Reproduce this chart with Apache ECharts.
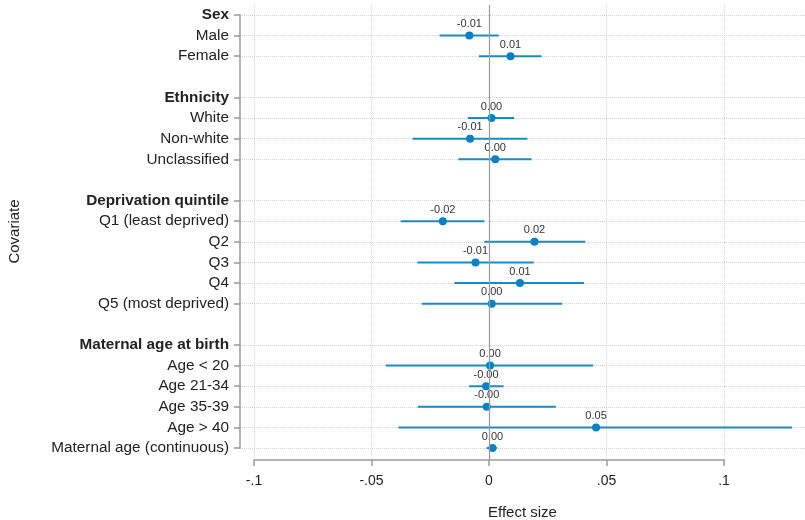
<!DOCTYPE html>
<html>
<head>
<meta charset="utf-8">
<script src="https://cdn.jsdelivr.net/npm/echarts@6/dist/echarts.min.js"></script>
<style>
  html, body { margin: 0; padding: 0; background: #fff; }
  #chart { width: 805px; height: 520px; }
</style>
</head>
<body>
<div id="chart"></div>
<script>
// rows of the plot, top to bottom (blank names are spacer rows)
var categories = ['Sex', 'Male', 'Female', ' ',
  'Ethnicity', 'White', 'Non-white', 'Unclassified', '  ',
  'Deprivation quintile', 'Q1 (least deprived)', 'Q2', 'Q3', 'Q4', 'Q5 (most deprived)', '   ',
  'Maternal age at birth', 'Age < 20', 'Age 21-34', 'Age 35-39', 'Age > 40', 'Maternal age (continuous)'];
var headers = ['Sex', 'Ethnicity', 'Deprivation quintile', 'Maternal age at birth'];

// estimates and 95% CI per covariate level
var rows = ['Male', 'Female', 'White', 'Non-white', 'Unclassified',
  'Q1 (least deprived)', 'Q2', 'Q3', 'Q4', 'Q5 (most deprived)',
  'Age < 20', 'Age 21-34', 'Age 35-39', 'Age > 40', 'Maternal age (continuous)'];
var estimate = [-0.0084, 0.0091, 0.0010, -0.0081, 0.0026,
  -0.0197, 0.0193, -0.0058, 0.0131, 0.0011,
  0.0004, -0.0013, -0.0010, 0.0455, 0.0014];
var lower = [-0.0211, -0.0043, -0.0091, -0.0326, -0.0131,
  -0.0376, -0.0020, -0.0305, -0.0148, -0.0287,
  -0.0440, -0.0085, -0.0304, -0.0386, -0.0011];
var upper = [0.0041, 0.0223, 0.0106, 0.0163, 0.0180,
  -0.0020, 0.0409, 0.0190, 0.0404, 0.0311,
  0.0443, 0.0062, 0.0284, 0.1289, 0.0034];

var xTicks = [-0.1, -0.05, 0, 0.05, 0.1];

var ciData = rows.map(function (r, i) { return [lower[i], upper[i], r]; });
var pointData = rows.map(function (r, i) { return [estimate[i], r]; });

var font = '"Liberation Sans", Arial, sans-serif';
var blue = '#1b8ac3';
var isRow = function (idx, val) { return String(val).trim() !== ''; };

var chart = echarts.init(document.getElementById('chart'));
chart.setOption({
  animation: false,
  textStyle: { fontFamily: font },
  grid: [
    { left: 240, right: 0, top: 15, bottom: 72, outerBoundsMode: 'none', containLabel: false },   // rows
    { left: 254, right: 81, top: 5, bottom: 60, outerBoundsMode: 'none', containLabel: false }    // x axis -.1 .. .1
  ],
  xAxis: [{
    gridIndex: 0, type: 'value', min: -0.106, max: 0.1344,
    axisLine: { show: false, onZero: false }, axisTick: { show: false },
    axisLabel: { show: false }, splitLine: { show: false },
    name: 'Effect size', nameLocation: 'middle', nameGap: 57,
    nameTextStyle: { fontSize: 15, color: '#222', fontFamily: font }
  }, {
    gridIndex: 1, type: 'value', min: xTicks[0], max: xTicks[xTicks.length - 1], interval: 0.05,
    axisLine: { onZero: false, lineStyle: { color: '#9a9a9a', width: 1.5 } },
    axisTick: { length: 6, lineStyle: { color: '#9a9a9a', width: 1.5 } },
    axisLabel: {
      fontSize: 14, color: '#222', margin: 14, fontFamily: font,
      formatter: function (v) {
        var s = String(Number(v.toFixed(2)));
        return s.replace('0.', '.');
      }
    },
    splitLine: { show: true, lineStyle: { color: '#d4d4d4', type: 'dotted', width: 1 } }
  }],
  yAxis: [{
    gridIndex: 0, type: 'category', data: categories, inverse: true, boundaryGap: false,
    axisLine: { onZero: false, lineStyle: { color: '#9a9a9a', width: 1.5 } },
    axisTick: { length: 6, interval: isRow, lineStyle: { color: '#9a9a9a', width: 1.5 } },
    axisLabel: {
      interval: isRow, margin: 11, fontSize: 15.3, color: '#222', fontFamily: font,
      formatter: function (v) {
        return headers.indexOf(v) >= 0 ? '{b|' + v + '}' : v;
      },
      rich: { b: { fontWeight: 'bold', fontSize: 15.3, color: '#222', fontFamily: font } }
    },
    splitLine: { show: true, interval: isRow, lineStyle: { color: '#d4d4d4', type: 'dotted', width: 1 } },
    name: 'Covariate', nameLocation: 'middle', nameRotate: 90, nameGap: 218,
    nameTextStyle: { fontSize: 15, color: '#222', fontFamily: font }
  }, {
    gridIndex: 1, type: 'value', min: 0, max: 1, show: false
  }],
  series: [{
    // zero reference line across the full plot height
    type: 'custom', xAxisIndex: 1, yAxisIndex: 1, data: [],
    renderItem: function () { return null; },
    markLine: {
      silent: true, symbol: 'none', label: { show: false },
      lineStyle: { color: '#9a9a9a', type: 'solid', width: 1.2 },
      data: [{ xAxis: 0 }]
    }
  }, {
    type: 'custom', xAxisIndex: 0, yAxisIndex: 0,
    encode: { x: [0, 1], y: 2 },
    data: ciData,
    renderItem: function (params, api) {
      var p1 = api.coord([api.value(0), api.value(2)]);
      var p2 = api.coord([api.value(1), api.value(2)]);
      return {
        type: 'line',
        shape: { x1: p1[0], y1: p1[1], x2: p2[0], y2: p2[1] },
        style: { stroke: blue, lineWidth: 2 }
      };
    }
  }, {
    type: 'scatter', xAxisIndex: 0, yAxisIndex: 0,
    data: pointData, symbolSize: 8,
    itemStyle: { color: '#0b80bf', opacity: 1 },
    label: {
      show: true, position: 'top', distance: 2,
      fontSize: 11, color: '#333', fontFamily: font,
      formatter: function (p) { return p.value[0].toFixed(2); }
    }
  }]
});
</script>
</body>
</html>
